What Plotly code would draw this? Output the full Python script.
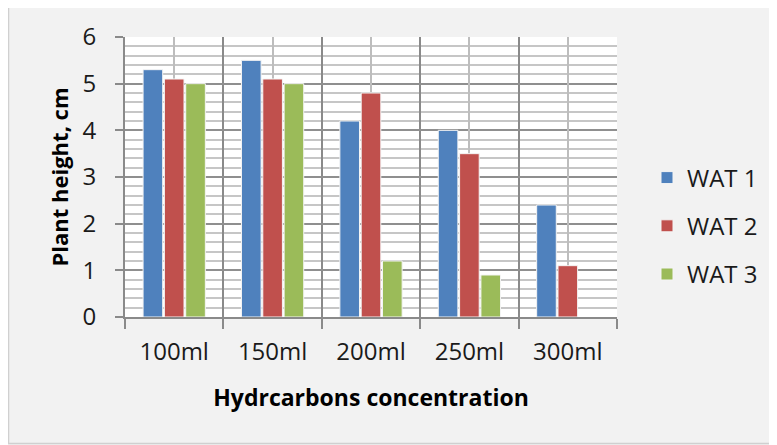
import plotly.graph_objects as go

categories = ["100ml", "150ml", "200ml", "250ml", "300ml"]
wat1 = [5.3, 5.5, 4.2, 4.0, 2.4]
wat2 = [5.1, 5.1, 4.8, 3.5, 1.1]
wat3 = [5.0, 5.0, 1.2, 0.9, None]
series_names = ["WAT 1", "WAT 2", "WAT 3"]
colors = ["#4f81bd", "#c0504d", "#9bbb59"]
y_ticks = [0, 1, 2, 3, 4, 5, 6]

FONT = "Open Sans"
OFF = 8  # page body margin offset
W, H = 777 - OFF, 445 - OFF
L, T = 125 - OFF, 37 - OFF
R, B = W - (617 - OFF), H - (317 - OFF)
pw = W - L - R
ph = H - T - B


def px_x(p):
    return (p - OFF - L) / pw


def px_y(p):
    return (H - B - (p - OFF)) / ph


fig = go.Figure()
for i, (name, vals) in enumerate(zip(series_names, [wat1, wat2, wat3])):
    fig.add_trace(go.Bar(
        x=categories, y=vals, name=name,
        marker=dict(color=colors[i], line=dict(color="#f4f4f4", width=1)),
        legendgroup=name,
    ))

# overlay axis for the lighter gridlines at category centres
fig.add_trace(go.Scatter(x=[], y=[], xaxis="x2", yaxis="y", showlegend=False, hoverinfo="skip"))

fig.update_layout(
    width=W, height=H,
    margin=dict(l=L, r=R, t=T, b=B, autoexpand=False),
    paper_bgcolor="#f2f2f2",
    plot_bgcolor="white",
    barmode="group",
    bargap=0.35,
    bargroupgap=0.08,
    font=dict(family=FONT, size=24, color="#1a1a1a"),
    xaxis=dict(
        type="category",
        tickson="boundaries",
        ticks="outside", ticklen=10, tickwidth=2, tickcolor="#8a8a8a",
        showgrid=True, gridcolor="#8a8a8a", gridwidth=2,
        showline=True, linecolor="#8a8a8a", linewidth=2,
        tickfont=dict(family=FONT, size=24, color="#1a1a1a"),
        ticklabelstandoff=12,
        title=dict(text="<b>Hydrcarbons concentration</b>", font=dict(family=FONT, size=23, color="#000000"), standoff=24),
        range=[-0.5, 4.5],
        fixedrange=True,
        automargin=False,
    ),
    xaxis2=dict(
        overlaying="x", anchor="y", type="linear",
        range=[-0.5, 4.5], tickvals=[0, 1, 2, 3, 4],
        showgrid=True, gridcolor="#bdbdbd", gridwidth=1.5,
        showticklabels=False, ticks="", showline=False, zeroline=False,
        automargin=False,
    ),
    yaxis=dict(
        range=[0, 6], tickvals=y_ticks,
        ticks="outside", ticklen=8, tickwidth=2, tickcolor="#8a8a8a",
        showgrid=True, gridcolor="#8f8f8f", gridwidth=2,
        minor=dict(dtick=0.2, showgrid=True, gridcolor="#c6c6c6", gridwidth=2),
        showline=True, linecolor="#8a8a8a", linewidth=2,
        zeroline=False,
        tickfont=dict(family=FONT, size=24, color="#1a1a1a"),
        ticklabelstandoff=14,
        title=dict(text="<b>Plant height, cm</b>", font=dict(family=FONT, size=22, color="#000000"), standoff=8),
        fixedrange=True,
        automargin=False,
    ),
    legend=dict(
        x=px_x(647), y=px_y(226),
        xanchor="left", yanchor="middle",
        bgcolor="rgba(0,0,0,0)",
        font=dict(family=FONT, size=24, color="#1a1a1a"),
        tracegroupgap=14,
    ),
    shapes=[dict(
        type="rect", xref="paper", yref="paper", layer="below",
        x0=px_x(8.5), x1=px_x(776.5),
        y0=px_y(443.5), y1=px_y(6),
        fillcolor="rgba(0,0,0,0)", line=dict(color="#d0d0d0", width=1.5),
    )],
    showlegend=True,
)

fig.write_html("out.html")
